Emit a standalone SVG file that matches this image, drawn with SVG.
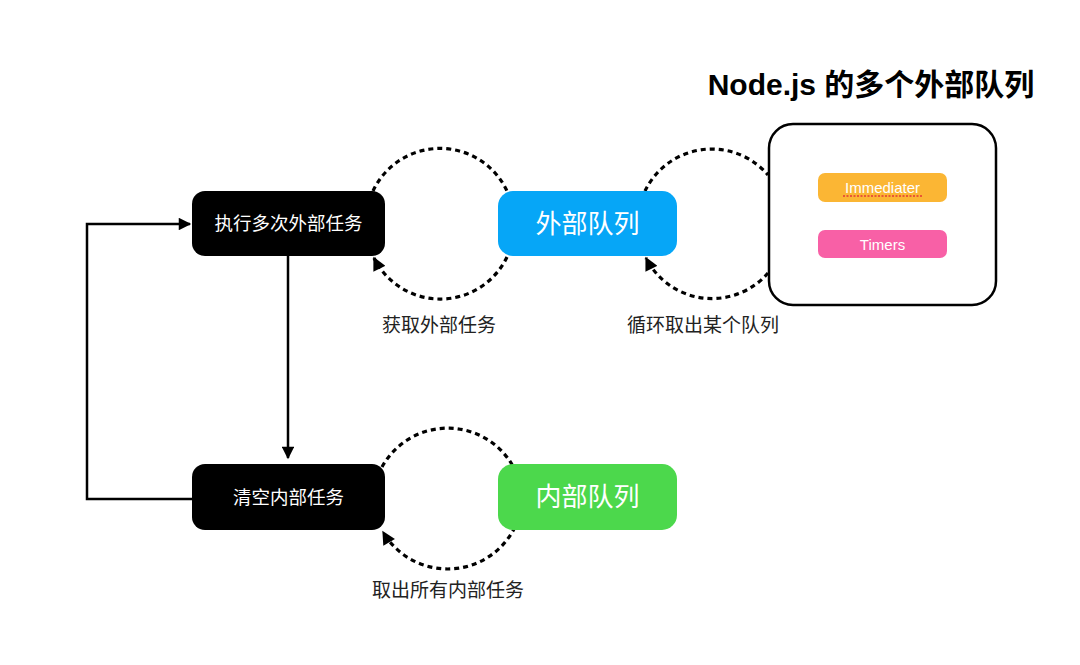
<svg xmlns="http://www.w3.org/2000/svg" width="1080" height="665" viewBox="0 0 1080 665">
<defs>
<style>
.cjk{font-family:"Liberation Sans","Noto Sans CJK SC",sans-serif}
.nodetxt{fill:#fff;font-size:18.5px;text-anchor:middle;dominant-baseline:central}
.qtxt{fill:#fff;font-size:26px;text-anchor:middle;dominant-baseline:central}
.lbl{fill:#222;font-size:19px;text-anchor:middle}
.dash{fill:none;stroke:#000;stroke-width:3.2;stroke-dasharray:5 4}
.solid{fill:none;stroke:#000;stroke-width:2.5}
.pill{font-family:"Liberation Sans",Arial,sans-serif;fill:#fff;font-size:15px;text-anchor:middle;dominant-baseline:central}
</style>
<marker id="ah" viewBox="0 0 10 10" refX="9" refY="5" markerWidth="5.5" markerHeight="5" markerUnits="strokeWidth" orient="auto">
<path d="M0,0 L10,5 L0,10 z" fill="#000"/>
</marker>
<marker id="ahd" viewBox="0 0 10 10" refX="9" refY="5" markerWidth="4.5" markerHeight="4.2" markerUnits="strokeWidth" orient="auto">
<path d="M0,0 L10,5 L0,10 z" fill="#000"/>
</marker>
</defs>
<rect width="1080" height="665" fill="#fff"/>

<text x="871" y="95" class="cjk" font-size="30" font-weight="bold" text-anchor="middle" fill="#000">Node.js 的多个外部队列</text>

<g id="connectors">
<path class="solid" d="M288,256 V458" marker-end="url(#ah)"/>
<path class="solid" d="M192,499 H87 V224 H190" marker-end="url(#ah)"/>
<path class="dash" d="M373,191 A74,74 0 0 1 507,191"/>
<path class="dash" d="M507,257 A74,74 0 0 1 374,258" marker-end="url(#ahd)"/>
<path class="dash" d="M645,191 A74,74 0 0 1 768,175"/>
<path class="dash" d="M768,273 A74,74 0 0 1 646,258" marker-end="url(#ahd)"/>
<path class="dash" d="M382,467 A75,75 0 0 1 515,470"/>
<path class="dash" d="M515,527 A75,75 0 0 1 383,532" marker-end="url(#ahd)"/>
</g>

<g id="node-exec">
<rect x="192" y="191" width="193" height="65" rx="13" fill="#000"/>
<text x="288.5" y="223.5" class="cjk nodetxt">执行多次外部任务</text>
</g>
<g id="node-outer">
<rect x="498" y="191" width="179" height="65" rx="15" fill="#06A6F7"/>
<text x="587.5" y="223.5" class="cjk qtxt">外部队列</text>
</g>
<g id="node-clear">
<rect x="192" y="464" width="193" height="66" rx="13" fill="#000"/>
<text x="288.5" y="497" class="cjk nodetxt">清空内部任务</text>
</g>
<g id="node-inner">
<rect x="498" y="464" width="179" height="66" rx="15" fill="#4CD84C"/>
<text x="587.5" y="497" class="cjk qtxt">内部队列</text>
</g>
<g id="node-queues">
<rect x="769" y="124" width="227" height="181" rx="24" fill="#fff" stroke="#000" stroke-width="2.5"/>
<g id="node-immediater">
<rect x="818" y="173" width="129" height="29" rx="7" fill="#FBB634"/>
<text x="882.5" y="187" class="pill">Immediater</text>
<line x1="843" y1="196" x2="922" y2="196" stroke="#E53935" stroke-width="1.5" stroke-dasharray="2 1.5"/>
</g>
<g id="node-timers">
<rect x="818" y="230" width="129" height="28" rx="7" fill="#F860A6"/>
<text x="882.5" y="244" class="pill">Timers</text>
</g>
</g>

<g id="labels">
<text x="439" y="332" class="cjk lbl">获取外部任务</text>
<text x="703" y="332" class="cjk lbl">循环取出某个队列</text>
<text x="448" y="597" class="cjk lbl">取出所有内部任务</text>
</g>
</svg>
